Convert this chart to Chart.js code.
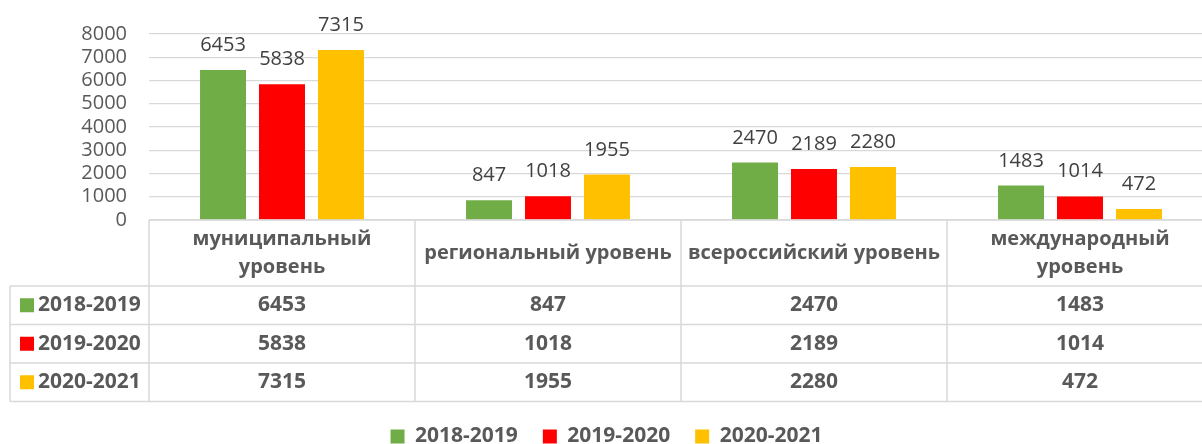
<!DOCTYPE html>
<html>
<head>
<meta charset="utf-8">
<script src="https://cdn.jsdelivr.net/npm/chart.js@4.4.1/dist/chart.umd.min.js"></script>
<style>
  html, body { margin: 0; padding: 0; background: #fff; overflow: hidden; }
  #wrap { width: 1202px; height: 444px; overflow: hidden; }
  canvas { display: block; }
</style>
</head>
<body>
<div id="wrap"><canvas id="chart" width="1216" height="480"></canvas></div>
<script>
// уровни конкурсов и число участников по учебным годам
const categories = [["муниципальный", "уровень"], "региональный уровень", "всероссийский уровень", ["международный", "уровень"]];
const seriesNames = ["2018-2019", "2019-2020", "2020-2021"];
const values2018 = [6453, 847, 2470, 1483];
const values2019 = [5838, 1018, 2189, 1014];
const values2020 = [7315, 1955, 2280, 472];
const yTicks = [0, 1000, 2000, 3000, 4000, 5000, 6000, 7000, 8000];

const seriesColors = ["#70AD47", "#FF0000", "#FFC000"];
const FONT = "'Open Sans', 'Noto Sans', sans-serif";
const textGrey = "#595959";
const lineGrey = "#d9d9d9";

// подписи значений над столбцами
const valueLabels = {
  id: "valueLabels",
  afterDatasetsDraw(chart) {
    const ctx = chart.ctx;
    ctx.save();
    ctx.font = "20px " + FONT;
    ctx.fillStyle = "#404040";
    ctx.textAlign = "center";
    ctx.textBaseline = "alphabetic";
    chart.data.datasets.forEach((ds, i) => {
      chart.getDatasetMeta(i).data.forEach((bar, j) => {
        ctx.fillText(String(ds.data[j]), bar.x, bar.y - 19);
      });
    });
    ctx.restore();
  }
};

// таблица данных под осью X (как в Excel)
const dataTable = {
  id: "dataTable",
  afterDraw(chart) {
    const ctx = chart.ctx;
    const area = chart.chartArea;
    const xs = chart.scales.x;
    const top = area.bottom;
    const headH = 66;
    const rowH = 38.5;
    const tableLeft = 10;
    const right = chart.width;
    const colW = (area.right - area.left) / categories.length;
    const bottom = top + headH + rowH * seriesNames.length;

    ctx.save();
    ctx.strokeStyle = lineGrey;
    ctx.lineWidth = 1.5;
    ctx.beginPath();
    // горизонтальные линии
    ctx.moveTo(area.left, top); ctx.lineTo(right, top);
    for (let r = 0; r <= seriesNames.length; r++) {
      const y = top + headH + rowH * r;
      ctx.moveTo(tableLeft, y); ctx.lineTo(right, y);
    }
    // вертикальные линии
    ctx.moveTo(tableLeft, top + headH); ctx.lineTo(tableLeft, bottom);
    for (let c = 0; c <= categories.length; c++) {
      const x = area.left + colW * c;
      ctx.moveTo(x, top); ctx.lineTo(x, bottom);
    }
    ctx.stroke();

    ctx.fillStyle = textGrey;
    ctx.font = "bold 20px " + FONT;
    ctx.textAlign = "center";
    ctx.textBaseline = "middle";

    // заголовки категорий
    chart.data.labels.forEach((label, i) => {
      const cx = xs.getPixelForValue(i);
      const lines = Array.isArray(label) ? label : [label];
      const lh = 28;
      const y0 = top + headH / 2 - (lines.length - 1) * lh / 2;
      lines.forEach((ln, k) => ctx.fillText(ln, cx, y0 + k * lh));
    });

    // строки значений
    ctx.font = "bold 21px " + FONT;
    chart.data.datasets.forEach((ds, r) => {
      const cy = top + headH + rowH * r + rowH / 2;
      ctx.fillStyle = ds.backgroundColor;
      ctx.fillRect(20, cy - 7, 14, 14);
      ctx.fillStyle = textGrey;
      ctx.textAlign = "left";
      ctx.fillText(ds.label, 38, cy);
      ctx.textAlign = "center";
      ds.data.forEach((v, i) => ctx.fillText(String(v), xs.getPixelForValue(i), cy));
    });
    ctx.restore();
  }
};

new Chart(document.getElementById("chart"), {
  type: "bar",
  data: {
    labels: categories,
    datasets: [
      { label: seriesNames[0], data: values2018, backgroundColor: seriesColors[0] },
      { label: seriesNames[1], data: values2019, backgroundColor: seriesColors[1] },
      { label: seriesNames[2], data: values2020, backgroundColor: seriesColors[2] }
    ]
  },
  options: {
    responsive: false,
    animation: false,
    events: [],
    layout: { padding: { top: 32, right: 3, bottom: 23, left: 0 } },
    datasets: { bar: { categoryPercentage: 0.665, barPercentage: 0.78 } },
    scales: {
      x: {
        grid: { display: false },
        border: { display: false },
        ticks: { display: false },
        afterFit: s => { s.height = 181; }
      },
      y: {
        min: 0,
        max: 8000,
        afterBuildTicks: s => { s.ticks = yTicks.map(v => ({ value: v })); },
        afterFit: s => { s.width = 149; },
        grid: { color: lineGrey, lineWidth: 1.25, drawTicks: false },
        border: { display: false },
        ticks: {
          autoSkip: false,
          padding: 22,
          color: textGrey,
          font: { family: FONT, size: 20 },
          callback: v => String(v)
        }
      }
    },
    plugins: {
      tooltip: { enabled: false },
      legend: {
        position: "bottom",
        labels: {
          boxWidth: 14,
          boxHeight: 14,
          padding: 25,
          color: textGrey,
          font: { family: FONT, size: 21, weight: "bold" }
        }
      }
    }
  },
  plugins: [valueLabels, dataTable]
});
</script>
</body>
</html>
